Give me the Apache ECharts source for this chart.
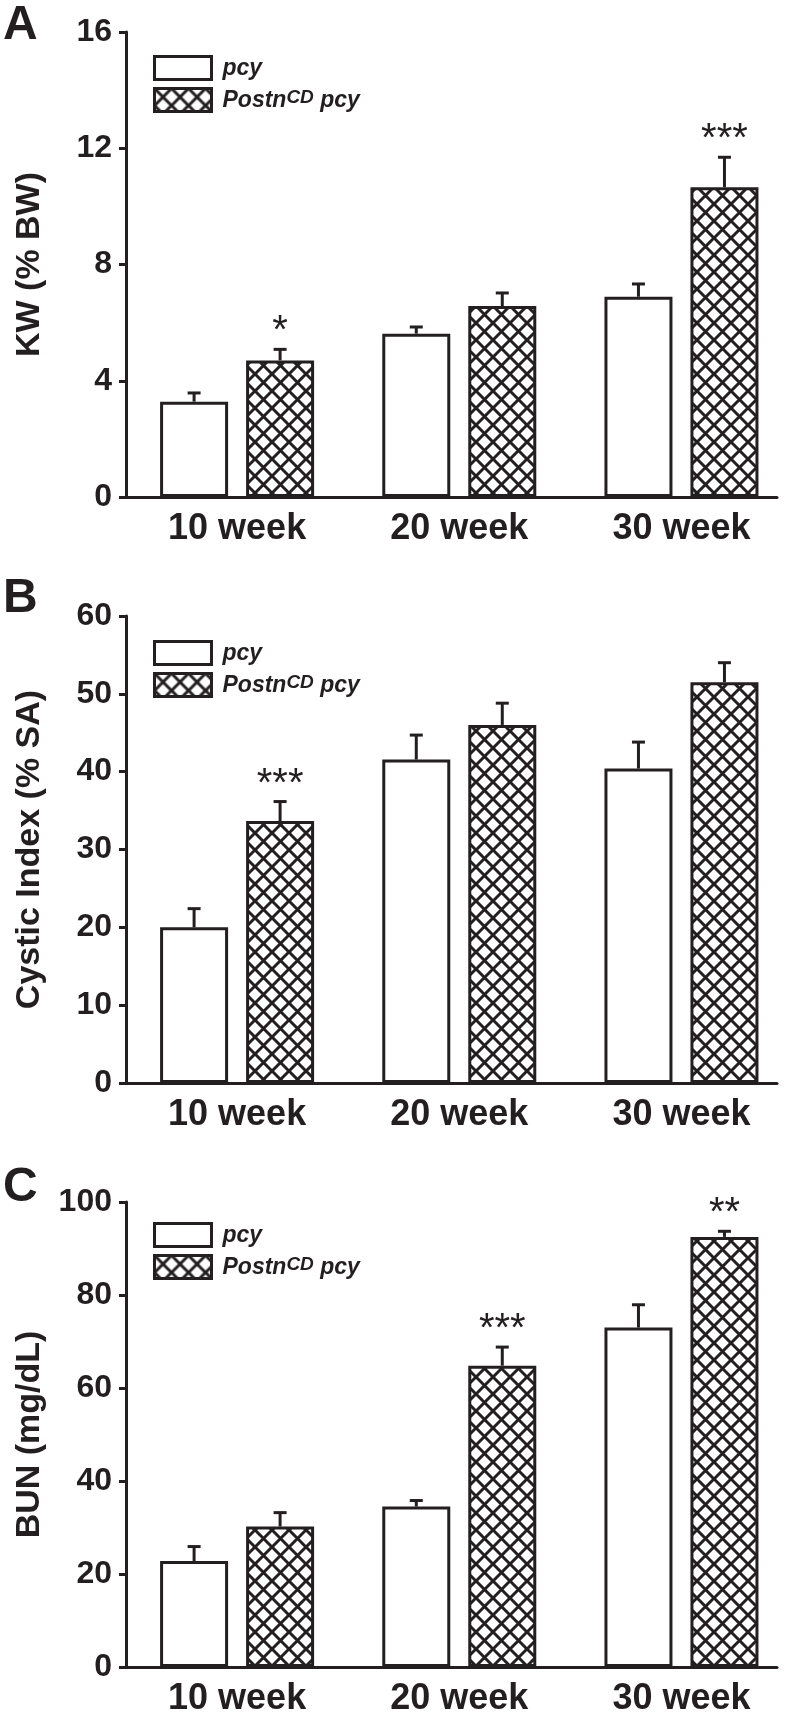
<!DOCTYPE html>
<html>
<head>
<meta charset="utf-8">
<script src="https://cdn.jsdelivr.net/npm/echarts@6/dist/echarts.min.js"></script>
<style>
  html, body { margin: 0; padding: 0; background: #fff; }
  #chart { width: 792px; height: 1724px; }
</style>
</head>
<body>
<div id="chart"></div>
<script>
// categories
var weeks = ['10 week', '20 week', '30 week'];

// A: kidney weight (% BW)
var kwPcy = [3.28, 5.62, 6.89];
var kwPcyErr = [0.30, 0.23, 0.44];
var kwPostn = [4.70, 6.57, 10.66];
var kwPostnErr = [0.38, 0.45, 1.03];
var kwStars = ['*', '', '***'];

// B: cystic index (% SA)
var ciPcy = [20.0, 41.55, 40.4];
var ciPcyErr = [2.4, 3.15, 3.4];
var ciPostn = [33.66, 46.0, 51.5];
var ciPostnErr = [2.5, 2.8, 2.5];
var ciStars = ['***', '', ''];

// C: BUN (mg/dL)
var bunPcy = [22.8, 34.5, 73.0];
var bunPcyErr = [3.1, 1.3, 4.9];
var bunPostn = [30.2, 64.8, 92.5];
var bunPostnErr = [3.0, 4.0, 1.2];
var bunStars = ['', '***', '**'];

var dark = '#231f20';
var FONT = '"Liberation Sans", Arial, Helvetica, sans-serif';
var BAR_W = 68, BAR_GAP = 18;

// crosshatch tile
function hatch() {
	var s = 17;
	var c = document.createElement('canvas');
	c.width = s; c.height = s;
	var ctx = c.getContext('2d');
	ctx.fillStyle = '#fff';
	ctx.fillRect(0, 0, s, s);
	ctx.strokeStyle = dark;
	ctx.lineWidth = 3;
	for (var dx = -s; dx <= s; dx += s) {
		ctx.beginPath();
		ctx.moveTo(dx, 0); ctx.lineTo(dx + s, s);
		ctx.moveTo(dx + s, 0); ctx.lineTo(dx, s);
		ctx.stroke();
	}
	return c;
}
var pattern = { image: hatch(), repeat: 'repeat' };

var panels = [
	{ name: 'KW (% BW)', max: 16, interval: 4, top: 32, h: 465, legTop: 55, pcy: kwPcy, pcyErr: kwPcyErr, postn: kwPostn, postnErr: kwPostnErr, stars: kwStars },
	{ name: 'Cystic Index (% SA)', max: 60, interval: 10, top: 616, h: 467, legTop: 640, pcy: ciPcy, pcyErr: ciPcyErr, postn: ciPostn, postnErr: ciPostnErr, stars: ciStars },
	{ name: 'BUN (mg/dL)', max: 100, interval: 20, top: 1202, h: 465, legTop: 1222, pcy: bunPcy, pcyErr: bunPcyErr, postn: bunPostn, postnErr: bunPostnErr, stars: bunStars }
];

function errRender(vals, errs, stars, dx) {
	return function (params, api) {
		var i = api.value(0);
		var v = vals[i], e = errs[i];
		var base = api.coord([i, v]);
		var top = api.coord([i, v + e]);
		var x = base[0] + dx;
		var lineStyle = { stroke: dark, lineWidth: 3 };
		var kids = [
			{ type: 'line', shape: { x1: x, y1: base[1], x2: x, y2: top[1] }, style: lineStyle },
			{ type: 'line', shape: { x1: x - 6.5, y1: top[1], x2: x + 6.5, y2: top[1] }, style: lineStyle }
		];
		if (stars && stars[i]) {
			kids.push({ type: 'text', style: { text: stars[i], x: x, y: top[1] - 17, align: 'center', verticalAlign: 'middle', font: 'normal 40px ' + FONT, fill: dark } });
		}
		return { type: 'group', children: kids };
	};
}

function pairs(vals) {
	return vals.map(function (v, i) { return [i, v]; });
}

var grid = [], xAxis = [], yAxis = [], series = [], legend = [];
var off = (BAR_W + BAR_GAP) / 2;

panels.forEach(function (p, k) {
	grid.push({ left: 126, width: 651, top: p.top, height: p.h });
	// value axis so the line can stop short of the last band, as in the figure
	xAxis.push({
		type: 'value', gridIndex: k, min: -0.5, max: 2.43,
		splitLine: { show: false },
		axisLine: { show: true, onZero: false, lineStyle: { color: dark, width: 3 } },
		axisTick: { show: false },
		axisLabel: {
			customValues: [0, 1, 2],
			formatter: function (v) { return weeks[Math.round(v)]; },
			color: dark, fontFamily: FONT, fontWeight: 'bold', fontSize: 36, margin: 14
		}
	});
	yAxis.push({
		type: 'value', gridIndex: k, min: 0, max: p.max, interval: p.interval,
		name: p.name, nameLocation: 'middle', nameGap: 79,
		nameTextStyle: { color: dark, fontFamily: FONT, fontWeight: 'bold', fontSize: 34 },
		splitLine: { show: false },
		axisLine: { show: true, onZero: false, lineStyle: { color: dark, width: 3 } },
		axisTick: { show: true, length: 7, lineStyle: { color: dark, width: 3 } },
		axisLabel: { color: dark, fontFamily: FONT, fontWeight: 'bold', fontSize: 32, margin: 14 }
	});
	series.push({
		name: 'pcy', type: 'bar', xAxisIndex: k, yAxisIndex: k,
		barWidth: BAR_W, barGap: (BAR_GAP / BAR_W * 100) + '%',
		itemStyle: { color: '#fff', borderColor: dark, borderWidth: 3 },
		data: pairs(p.pcy)
	});
	series.push({
		name: 'Postn', type: 'bar', xAxisIndex: k, yAxisIndex: k,
		barWidth: BAR_W, barGap: (BAR_GAP / BAR_W * 100) + '%',
		itemStyle: { color: pattern, borderColor: dark, borderWidth: 3 },
		data: pairs(p.postn)
	});
	series.push({
		type: 'custom', xAxisIndex: k, yAxisIndex: k, z: 5, silent: true,
		renderItem: errRender(p.pcy, p.pcyErr, null, -off),
		data: pairs(p.pcy.map(function (v, i) { return v + p.pcyErr[i]; }))
	});
	series.push({
		type: 'custom', xAxisIndex: k, yAxisIndex: k, z: 5, silent: true,
		renderItem: errRender(p.postn, p.postnErr, p.stars, off),
		data: pairs(p.postn.map(function (v, i) { return v + p.postnErr[i]; }))
	});
	legend.push({
		data: [{ name: 'pcy', icon: 'rect' }, { name: 'Postn', icon: 'rect' }],
		orient: 'vertical', left: 153, top: p.legTop, padding: 0,
		itemWidth: 57, itemHeight: 23, itemGap: 6, selectedMode: false,
		itemStyle: { borderColor: dark, borderWidth: 3 },
		formatter: function (n) {
			return n === 'pcy' ? '{n|pcy}' : '{n|Postn}{sup|CD}{n| pcy}';
		},
		textStyle: {
			padding: [0, 0, 0, 6],
			rich: {
				n: { fontFamily: FONT, fontSize: 23, fontWeight: 'bold', fontStyle: 'italic', color: dark, verticalAlign: 'bottom', lineHeight: 24 },
				sup: { fontFamily: FONT, fontSize: 19, fontWeight: 'bold', fontStyle: 'italic', color: dark, verticalAlign: 'top', lineHeight: 19, padding: [0, 0, 14, 0] }
			}
		}
	});
});

var letters = [['A', 2], ['B', 575], ['C', 1164]];
var graphic = letters.map(function (l) {
	return { type: 'text', left: 3, top: l[1], style: { text: l[0], font: 'bold 48px ' + FONT, fill: dark } };
});

var chart = echarts.init(document.getElementById('chart'));
chart.setOption({
	animation: false,
	backgroundColor: '#fff',
	grid: grid, xAxis: xAxis, yAxis: yAxis, series: series, legend: legend, graphic: graphic
});
</script>
</body>
</html>
